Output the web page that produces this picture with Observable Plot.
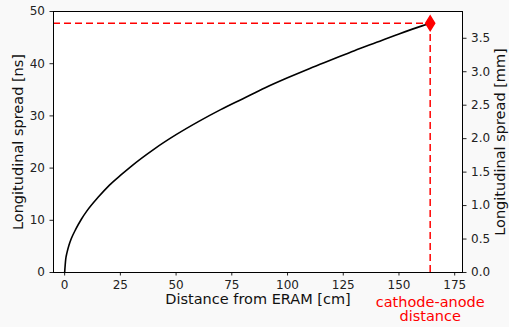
<!DOCTYPE html>
<html>
<head>
<meta charset="utf-8">
<script src="https://cdn.jsdelivr.net/npm/d3@7"></script>
<script src="https://cdn.jsdelivr.net/npm/@observablehq/plot@0.6"></script>
<style>
  html, body { margin: 0; padding: 0; background: #f9f9f9; }
  #chart svg { display: block; }
</style>
</head>
<body>
<div id="chart"></div>
<script>
// Distance from ERAM [cm]
const distanceCm = [0, 0.5, 1, 2, 3, 5, 7.5, 10, 15, 20, 25, 30, 40, 50, 60, 70, 80, 90, 100, 110, 120, 130, 140, 150, 160, 164];
// Longitudinal spread [ns]
const spreadNs = [0, 2.6, 3.7, 5.3, 6.5, 8.3, 10.2, 11.8, 14.4, 16.7, 18.6, 20.4, 23.6, 26.4, 28.9, 31.2, 33.3, 35.4, 37.3, 39.1, 40.8, 42.5, 44.1, 45.7, 47.2, 47.75];
const cathodeX = 164;
const cathodeY = 47.75;
const mmPerNs = 0.078;
const xTicks = [0, 25, 50, 75, 100, 125, 150, 175];
const yTicks = [0, 10, 20, 30, 40, 50];
const mmTicks = [0, 0.5, 1.0, 1.5, 2.0, 2.5, 3.0, 3.5];
const xDomain = [-5, 178.5];
const yDomain = [0, 50];

const data = distanceCm.map((x, i) => ({x, y: spreadNs[i]}));

const thinDiamond = {
  draw(context, size) {
    const r = Math.sqrt(size) * 0.75;
    const w = r * 0.62;
    context.moveTo(0, -r);
    context.lineTo(w, 0);
    context.lineTo(0, r);
    context.lineTo(-w, 0);
    context.closePath();
  }
};

const font = "DejaVu Sans, sans-serif";

const chart = Plot.plot({
  width: 509,
  height: 327,
  marginLeft: 53,
  marginRight: 47,
  marginTop: 11,
  marginBottom: 55,
  style: {background: "transparent", fontFamily: font, fontSize: "12px", color: "#222"},
  x: {domain: xDomain},
  y: {domain: yDomain},
  marks: [
    Plot.frame({fill: "white", stroke: null}),
    Plot.axisX({ticks: xTicks, tickSize: 3.5, tickPadding: 4, label: null, fontSize: 12}),
    Plot.axisY({ticks: yTicks, anchor: "left", tickSize: 3.5, tickPadding: 5, label: null, fontSize: 12}),
    Plot.axisY(mmTicks.map(m => m / mmPerNs), {anchor: "right", tickSize: 3.5, tickPadding: 5, label: null, fontSize: 12,
      tickFormat: d => (d * mmPerNs).toFixed(1)}),
    Plot.line(data, {x: "x", y: "y", stroke: "black", strokeWidth: 1.6, curve: "monotone-x"}),
    Plot.ruleY([cathodeY], {x1: xDomain[0], x2: cathodeX, stroke: "red", strokeWidth: 1.5, strokeDasharray: "7,4"}),
    Plot.ruleX([cathodeX], {y1: 0, y2: cathodeY, stroke: "red", strokeWidth: 1.5, strokeDasharray: "7,4"}),
    Plot.dot([{x: cathodeX, y: cathodeY}], {x: "x", y: "y", symbol: thinDiamond, r: 5.5, fill: "red", stroke: "red"}),
    Plot.frame({stroke: "black", strokeWidth: 1}),
    Plot.text(["Distance from ERAM [cm]"], {frameAnchor: "bottom", textAnchor: "middle", dy: 31, fontSize: 14.5, fill: "#111"}),
    Plot.text(["Longitudinal spread [ns]"], {frameAnchor: "left", textAnchor: "middle", dx: -35, rotate: -90, fontSize: 14.5, fill: "#111"}),
    Plot.text(["Longitudinal spread [mm]"], {frameAnchor: "right", textAnchor: "middle", dx: 38, rotate: -90, fontSize: 14.5, fill: "#111"}),
    Plot.text(["cathode-anode\ndistance"], {x: [cathodeX], frameAnchor: "bottom", lineAnchor: "top", dy: 24, lineHeight: 1.0, fontSize: 14.5, fill: "red"})
  ]
});
document.getElementById("chart").appendChild(chart);
</script>
</body>
</html>
